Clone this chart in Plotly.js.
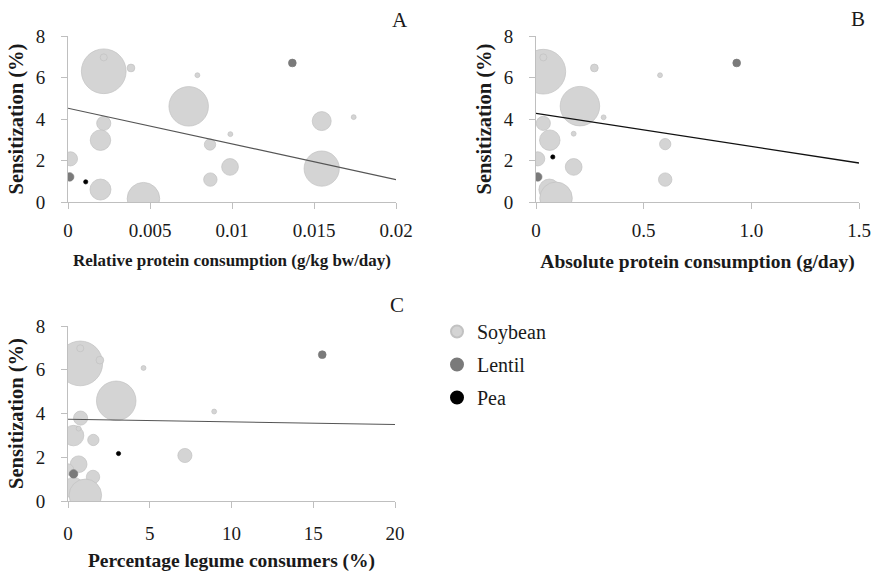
<!DOCTYPE html>
<html>
<head>
<meta charset="utf-8">
<script src="https://cdn.plot.ly/plotly-3.0.1.min.js"></script>
<style>
html, body { margin: 0; padding: 0; background: #fff; }
#chart { width: 875px; height: 572px; }
</style>
</head>
<body>
<div id="chart"></div>
<script>
// ---------- Data ----------
// Panel A: relative protein consumption (g/kg bw/day) vs sensitization (%)
const soyA_x = [0.00218, 0.00218, 0.00384, 0.00789, 0.00736, 0.01547, 0.01742, 0.00218, 0.00198, 0.0099, 0.00866, 0.00015, 0.00988, 0.01547, 0.00868, 0.00198, 0.0046];
const soyA_y = [6.30, 6.97, 6.46, 6.11, 4.61, 3.90, 4.09, 3.79, 2.98, 3.27, 2.77, 2.08, 1.69, 1.61, 1.08, 0.60, 0.16];
const soyA_w = [100, 2.5, 3, 1.2, 78, 18, 1.2, 10, 21, 1.2, 6.4, 10, 14, 62, 9, 22, 53];
const lenA_x = [0.0001, 0.01368];
const lenA_y = [1.21, 6.70];
const lenA_w = [3.6, 3];
const peaA_x = [0.00108];
const peaA_y = [0.97];
const peaA_w = [0.9];
const trendA_x = [0, 0.02];
const trendA_y = [4.52, 1.08];

// Panel B: absolute protein consumption (g/day) vs sensitization (%)
const soyB_x = [0.034, 0.034, 0.271, 0.576, 0.204, 0.314, 0.034, 0.064, 0.175, 0.60, 0.008, 0.175, 0.60, 0.062, 0.093];
const soyB_y = [6.28, 6.97, 6.46, 6.11, 4.62, 4.08, 3.79, 2.98, 3.29, 2.79, 2.08, 1.69, 1.08, 0.60, 0.18];
const soyB_w = [100, 2.5, 3, 1.2, 78, 1.2, 10, 21, 1.2, 6.4, 10, 14, 9, 22, 53];
const lenB_x = [0.008, 0.932];
const lenB_y = [1.21, 6.70];
const lenB_w = [3.6, 3];
const peaB_x = [0.078];
const peaB_y = [2.17];
const peaB_w = [0.9];
const trendB_x = [0, 1.5];
const trendB_y = [4.27, 1.88];

// Panel C: percentage legume consumers (%) vs sensitization (%)
const soyC_x = [0.75, 0.75, 1.95, 4.62, 2.95, 8.94, 0.77, 0.34, 0.65, 1.55, 7.15, 0.65, 0.0, 1.53, 0.34, 1.06];
const soyC_y = [6.29, 6.98, 6.44, 6.08, 4.58, 4.09, 3.79, 2.99, 3.31, 2.79, 2.08, 1.68, 1.44, 1.10, 0.60, 0.26];
const soyC_w = [100, 2.5, 3, 1.2, 78, 1.2, 10, 21, 1.2, 6.4, 10, 14, 6.4, 9, 22, 53];
const lenC_x = [0.34, 15.55];
const lenC_y = [1.24, 6.69];
const lenC_w = [3.6, 3];
const peaC_x = [3.09];
const peaC_y = [2.17];
const peaC_w = [0.9];
const trendC_x = [0, 20];
const trendC_y = [3.74, 3.50];

const yTicks = [0, 2, 4, 6, 8];
const xTicksA = [0, 0.005, 0.01, 0.015, 0.02];
const xTickTextA = ['0', '0.005', '0.01', '0.015', '0.02'];
const xTicksB = [0, 0.5, 1.0, 1.5];
const xTickTextB = ['0', '0.5', '1.0', '1.5'];
const xTicksC = [0, 5, 10, 15, 20];
const xTickTextC = ['0', '5', '10', '15', '20'];

const seriesNames = ['Soybean', 'Lentil', 'Pea'];
const panelLabels = ['A', 'B', 'C'];
const xTitles = ['Relative protein consumption (g/kg bw/day)', 'Absolute protein consumption (g/day)', 'Percentage legume consumers (%)'];
const yTitle = 'Sensitization (%)';

// ---------- Styles ----------
const FONT = "'Liberation Serif', 'Times New Roman', serif";
const TXT = '#1a1a1a';
const SOY = '#d4d4d4', SOY_LINE = '#c2c2c2';
const LEN = '#7a7a7a', PEA = '#000000';
const SIZEREF = 0.1;

function bubble(x, y, w, name, color, lineColor, xa, ya, show) {
  return {
    type: 'scatter', mode: 'markers', x: x, y: y, name: name,
    xaxis: xa, yaxis: ya, legendgroup: name, showlegend: show,
    cliponaxis: true, hoverinfo: 'x+y',
    marker: { size: w, sizemode: 'area', sizeref: SIZEREF, sizemin: 0, color: color, opacity: 1,
              line: { color: lineColor, width: 0.7 } }
  };
}
function trend(x, y, xa, ya, color, width) {
  return { type: 'scatter', mode: 'lines', x: x, y: y, xaxis: xa, yaxis: ya,
           showlegend: false, hoverinfo: 'skip', line: { color: color, width: width } };
}

const data = [
  bubble(soyA_x, soyA_y, soyA_w, seriesNames[0], SOY, SOY_LINE, 'x', 'y', true),
  bubble(lenA_x, lenA_y, lenA_w, seriesNames[1], LEN, LEN, 'x', 'y', true),
  bubble(peaA_x, peaA_y, peaA_w, seriesNames[2], PEA, PEA, 'x', 'y', true),
  trend(trendA_x, trendA_y, 'x', 'y', '#555555', 1.1),

  bubble(soyB_x, soyB_y, soyB_w, seriesNames[0], SOY, SOY_LINE, 'x2', 'y2', false),
  bubble(lenB_x, lenB_y, lenB_w, seriesNames[1], LEN, LEN, 'x2', 'y2', false),
  bubble(peaB_x, peaB_y, peaB_w, seriesNames[2], PEA, PEA, 'x2', 'y2', false),
  trend(trendB_x, trendB_y, 'x2', 'y2', '#111111', 1.3),

  bubble(soyC_x, soyC_y, soyC_w, seriesNames[0], SOY, SOY_LINE, 'x3', 'y3', false),
  bubble(lenC_x, lenC_y, lenC_w, seriesNames[1], LEN, LEN, 'x3', 'y3', false),
  bubble(peaC_x, peaC_y, peaC_w, seriesNames[2], PEA, PEA, 'x3', 'y3', false),
  trend(trendC_x, trendC_y, 'x3', 'y3', '#555555', 1.1)
];

const W = 875, H = 572;
function xd(l, r) { return [l / W, r / W]; }
function yd(t, b) { return [1 - b / H, 1 - t / H]; }

function xaxis(dom, anchor, range, tv, tt, title, tsize, tlstand) {
  return {
    domain: dom, anchor: anchor, range: range, fixedrange: true,
    tickmode: 'array', tickvals: tv, ticktext: tt,
    showline: true, linecolor: '#bfbfbf', linewidth: 1,
    ticks: 'outside', ticklen: 6, tickcolor: '#bfbfbf', tickwidth: 1,
    ticklabelstandoff: tlstand,
    showgrid: false, zeroline: false,
    tickfont: { family: FONT, size: 19, color: TXT },
    title: { text: '<b>' + title + '</b>', standoff: 14, font: { family: FONT, size: tsize, color: TXT } }
  };
}
function yaxis(dom, anchor) {
  return {
    domain: dom, anchor: anchor, range: [0, 8], fixedrange: true,
    tickmode: 'array', tickvals: yTicks,
    showline: true, linecolor: '#bfbfbf', linewidth: 1,
    ticks: 'outside', ticklen: 6, tickcolor: '#bfbfbf', tickwidth: 1,
    ticklabelstandoff: 12,
    showgrid: false, zeroline: false,
    tickfont: { family: FONT, size: 19, color: TXT },
    title: { text: '<b>' + yTitle + '</b>', standoff: 6, font: { family: FONT, size: 20.5, color: TXT } }
  };
}

const layout = {
  width: W, height: H,
  margin: { l: 0, r: 0, t: 0, b: 0, autoexpand: false },
  paper_bgcolor: '#ffffff', plot_bgcolor: '#ffffff',
  font: { family: FONT, size: 19, color: TXT },
  xaxis: xaxis(xd(68, 396), 'y', [0, 0.02], xTicksA, xTickTextA, xTitles[0], 17, 5),
  yaxis: yaxis(yd(36, 202), 'x'),
  xaxis2: xaxis(xd(536, 859), 'y2', [0, 1.5], xTicksB, xTickTextB, xTitles[1], 19.5, 5),
  yaxis2: yaxis(yd(36, 202), 'x2'),
  xaxis3: xaxis(xd(68, 395), 'y3', [0, 20], xTicksC, xTickTextC, xTitles[2], 19.5, 9),
  yaxis3: yaxis(yd(326, 501), 'x3'),
  showlegend: true,
  legend: {
    x: 437 / W, y: 1 - 312 / H, xanchor: 'left', yanchor: 'top',
    font: { family: FONT, size: 20, color: TXT },
    itemsizing: 'constant', tracegroupgap: 4, itemwidth: 30,
    bgcolor: 'rgba(0,0,0,0)', borderwidth: 0
  },
  annotations: [
    { text: panelLabels[0], xref: 'paper', yref: 'paper', x: 400 / W, y: 1 - 20 / H, showarrow: false, xanchor: 'center', yanchor: 'middle', font: { family: FONT, size: 21, color: TXT } },
    { text: panelLabels[1], xref: 'paper', yref: 'paper', x: 858 / W, y: 1 - 19 / H, showarrow: false, xanchor: 'center', yanchor: 'middle', font: { family: FONT, size: 21, color: TXT } },
    { text: panelLabels[2], xref: 'paper', yref: 'paper', x: 397 / W, y: 1 - 305 / H, showarrow: false, xanchor: 'center', yanchor: 'middle', font: { family: FONT, size: 21, color: TXT } }
  ]
};

Plotly.newPlot('chart', data, layout, { staticPlot: true, displayModeBar: false });
</script>
</body>
</html>
